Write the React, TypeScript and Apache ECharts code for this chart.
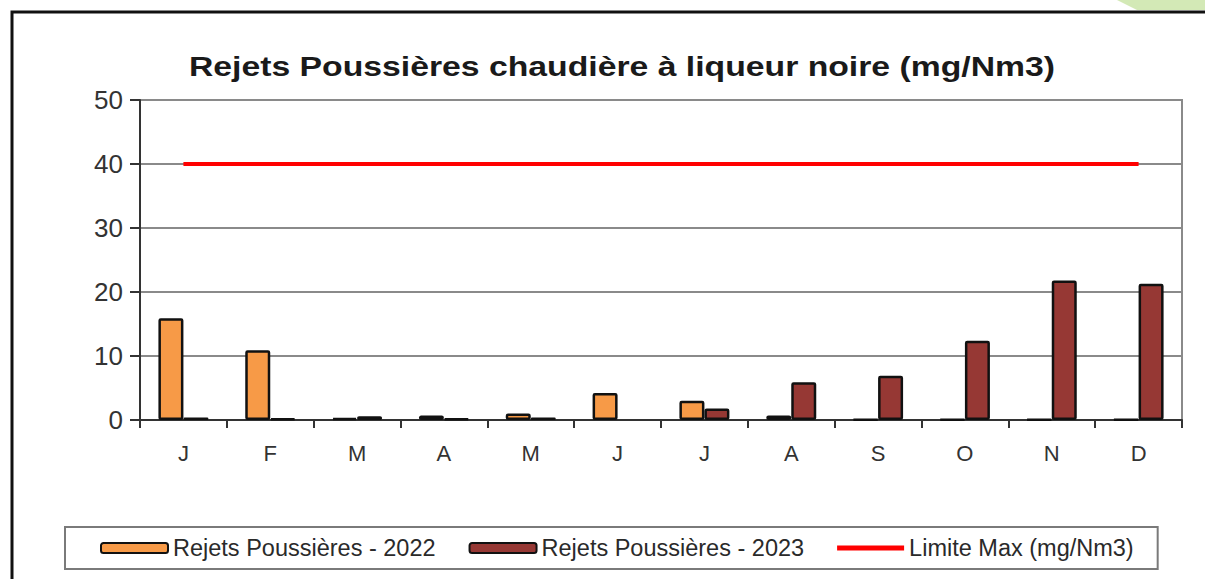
import React, { useEffect, useRef } from "react";
import * as echarts from "echarts";

const months = ["J", "F", "M", "A", "M", "J", "J", "A", "S", "O", "N", "D"];
const rejets2022 = [15.9, 10.9, 0.3, 0.7, 1.0, 4.2, 3.0, 0.7, 0.1, 0.1, 0.1, 0.1];
const rejets2023 = [0.4, 0.2, 0.6, 0.2, 0.4, null, 1.8, 5.9, 6.9, 12.4, 21.8, 21.3];
const limiteMax = [40, 40, 40, 40, 40, 40, 40, 40, 40, 40, 40, 40];
const yTicks = [0, 10, 20, 30, 40, 50];

const title = "Rejets Poussières chaudière à liqueur noire (mg/Nm3)";
const seriesNames = ["Rejets Poussières - 2022", "Rejets Poussières - 2023", "Limite Max (mg/Nm3)"];

export default function App() {
  const ref = useRef<HTMLDivElement>(null);
  useEffect(() => {
    if (!ref.current) return;
    const chart = echarts.init(ref.current, null, { renderer: "svg" });
    const font = "'Liberation Sans', Arial, sans-serif";
    chart.setOption({
      animation: false,
      backgroundColor: "#ffffff",
      grid: { left: 140, right: 23, top: 100, bottom: 159, show: true, borderColor: "#8a8a8a", borderWidth: 2 },
      graphic: [
        {
          type: "polygon",
          shape: { points: [[1117, 0], [1205, 0], [1205, 10], [1137, 10]] },
          style: { fill: "#d3e9b6" },
          silent: true,
        },
        {
          type: "polyline",
          shape: { points: [[12, 600], [12, 12], [1210, 12]] },
          style: { stroke: "#111111", lineWidth: 3, fill: null },
          silent: true,
        },
        {
          type: "text",
          x: 622,
          y: 66,
          scaleX: 1.25,
          style: {
            text: title,
            x: 0,
            y: 0,
            align: "center",
            verticalAlign: "middle",
            font: "bold 27px 'Liberation Sans', Arial, sans-serif",
            fill: "#1a1a1a",
          },
          silent: true,
        },
      ],
      legend: {
        data: [
          { name: seriesNames[0] },
          { name: seriesNames[1] },
          {
            name: seriesNames[2],
            icon: "path://M0 0 H67 V5 H0 Z",
            itemStyle: { color: "#FF0000", borderWidth: 0 },
          },
        ],
        left: 65,
        top: 527,
        orient: "horizontal",
        padding: [9, 24, 9, 35],
        itemWidth: 67,
        itemHeight: 10,
        itemGap: 33,
        borderColor: "#7a7a7a",
        borderWidth: 2,
        textStyle: { fontFamily: font, fontSize: 23.5, color: "#2a2a2a", lineHeight: 20, padding: [0, 0, 0, 0] },
      },
      xAxis: {
        type: "category",
        data: months,
        axisLine: { show: true, lineStyle: { color: "#333", width: 2 } },
        axisTick: { show: true, interval: 0, length: 8, lineStyle: { color: "#333", width: 2 } },
        axisLabel: { fontFamily: font, fontSize: 22, color: "#333", margin: 22, interval: 0 },
      },
      yAxis: {
        type: "value",
        min: yTicks[0],
        max: yTicks[yTicks.length - 1],
        interval: 10,
        axisLine: { show: true, lineStyle: { color: "#333", width: 2 } },
        axisTick: { show: true, length: 10, lineStyle: { color: "#333", width: 2 } },
        axisLabel: { fontFamily: font, fontSize: 26, color: "#333", margin: 17 },
        splitLine: { show: true, lineStyle: { color: "#8a8a8a", width: 2 } },
      },
      series: [
        {
          name: seriesNames[0],
          type: "bar",
          data: rejets2022,
          barWidth: 25,
          barGap: "0%",
          itemStyle: { color: "#F79A47", borderColor: "#111", borderWidth: 2.5, borderRadius: 1 },
        },
        {
          name: seriesNames[1],
          type: "bar",
          data: rejets2023,
          barWidth: 25,
          barGap: "0%",
          itemStyle: { color: "#963834", borderColor: "#111", borderWidth: 2.5, borderRadius: 1 },
        },
        {
          name: seriesNames[2],
          type: "line",
          data: limiteMax,
          symbol: "none",
          z: 5,
          itemStyle: { color: "#FF0000" },
          lineStyle: { color: "#FF0000", width: 4 },
        },
      ],
    });
    return () => chart.dispose();
  }, []);
  return <div ref={ref} style={{ position: "absolute", left: 0, top: 0, width: 1205, height: 579 }} />;
}
